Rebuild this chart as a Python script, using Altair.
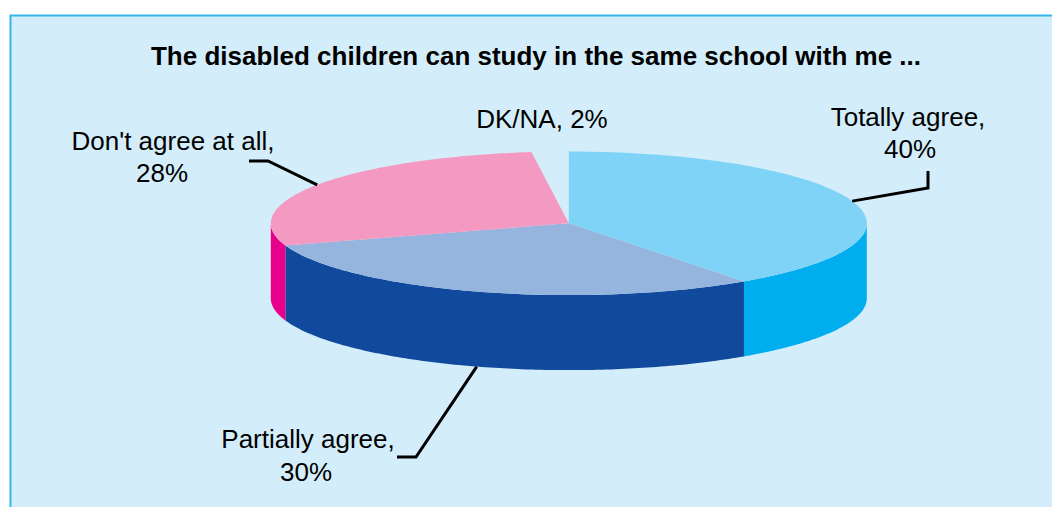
import math
import altair as alt
import pandas as pd

# ---- data ----
categories = ["Totally agree", "Partially agree", "Don't agree at all", "DK/NA"]
values = [40, 30, 28, 2]
top_colors = ["#7fd3f6", "#95b4de", "#f49ac2", "#d3eefa"]
side_colors = ["#00aeef", "#11499d", "#e8008a", "#d3eefa"]
title_text = "The disabled children can study in the same school with me ..."

# ---- layout (pixels) ----
W, H = 1052, 507
CX, CY, RX, RY, DEPTH = 568.8, 223.3, 298.0, 71.8, 75.0
N = 120
FONT = "Liberation Sans"

df = pd.DataFrame({"category": categories, "value": values, "idx": list(range(len(values)))})

xs = alt.Scale(domain=[0, W], range=[0, W], nice=False, zero=False)
ys = alt.Scale(domain=[0, H], range=[0, H], nice=False, zero=False)


def X(f):
    return alt.X(f, type="quantitative", scale=xs, axis=None)


def Y(f):
    return alt.Y(f, type="quantitative", scale=ys, axis=None)


def angles(ch):
    return (
        ch.transform_window(cum="sum(value)", sort=[alt.SortField("idx")], frame=[None, 0])
        .transform_joinaggregate(total="sum(value)")
        .transform_calculate(a0="2*PI*(datum.cum-datum.value)/datum.total")
        .transform_calculate(a1="2*PI*datum.cum/datum.total")
        .transform_filter("datum.category != 'DK/NA'")
    )


panel = alt.Chart(pd.DataFrame({"p": [0]})).mark_rect(
    fill="#d3eefa", stroke="#35b6ea", strokeWidth=2
).encode(x=alt.value(10.5), x2=alt.value(W + 20), y=alt.value(15.5), y2=alt.value(H + 20))

# side walls (front half of the ellipse)
walls = (
    angles(alt.Chart(df))
    .transform_filter("datum.a1 > PI/2 && datum.a0 < 3*PI/2")
    .transform_calculate(w0="max(datum.a0, PI/2)")
    .transform_calculate(w1="min(datum.a1, 3*PI/2)")
    .transform_calculate(steps=f"sequence(0, {N + 1})")
    .transform_flatten(["steps"], as_=["k"])
    .transform_calculate(t=f"datum.w0 + (datum.w1-datum.w0)*datum.k/{N}")
    .transform_calculate(px=f"{CX} + {RX}*sin(datum.t)")
    .transform_calculate(py=f"{CY} - {RY}*cos(datum.t)")
    .transform_calculate(py2=f"datum.py + {DEPTH}")
    .mark_area(orient="vertical")
    .encode(
        x=X("px"), y=Y("py"), y2="py2",
        detail="category:N",
        fill=alt.Fill("category:N", scale=alt.Scale(domain=categories, range=side_colors), legend=None),
    )
)

# top faces
tops = (
    angles(alt.Chart(df))
    .transform_calculate(steps=f"sequence(0, {N + 2})")
    .transform_flatten(["steps"], as_=["k"])
    .transform_calculate(t=f"datum.k == 0 ? 0 : datum.a0 + (datum.a1-datum.a0)*(datum.k-1)/{N}")
    .transform_calculate(px=f"datum.k == 0 ? {CX} : {CX} + {RX}*sin(datum.t)")
    .transform_calculate(py=f"datum.k == 0 ? {CY} : {CY} - {RY}*cos(datum.t)")
    .mark_line(filled=True, strokeWidth=0)
    .encode(
        x=X("px"), y=Y("py"),
        order=alt.Order("k:Q"),
        detail="category:N",
        fill=alt.Fill("category:N", scale=alt.Scale(domain=categories, range=top_colors), legend=None),
    )
)

# leader lines: start at slice mid-angle on the rim, then elbow and end near label
elbows = {
    "Totally agree": [(928, 188), (928, 171)],
    "Partially agree": [(416, 457), (397, 457)],
    "Don't agree at all": [(268, 161), (249, 161)],
}
total = sum(values)
rows = []
cum = 0
for c, v in zip(categories, values):
    mid = 2 * math.pi * (cum + v / 2) / total
    cum += v
    if c not in elbows:
        continue
    ex = CX + RX * math.sin(mid)
    ey = CY - RY * math.cos(mid)
    if -math.cos(mid) > 0:
        ey += DEPTH
    pts = [(ex, ey)] + elbows[c]
    for i, (px, py) in enumerate(pts):
        rows.append({"category": c, "step": i, "px": px, "py": py})
leaders = alt.Chart(pd.DataFrame(rows)).mark_line(color="black", strokeWidth=3).encode(
    x=X("px"), y=Y("py"), order=alt.Order("step:Q"), detail="category:N"
)

# labels
pct = {c: f"{v}%" for c, v in zip(categories, values)}
label_rows = [
    {"text": "Totally agree,", "px": 908, "py": 126},
    {"text": pct["Totally agree"], "px": 910, "py": 158},
    {"text": "Don't agree at all,", "px": 173, "py": 150},
    {"text": pct["Don't agree at all"], "px": 162, "py": 182},
    {"text": "Partially agree,", "px": 308, "py": 448},
    {"text": pct["Partially agree"], "px": 306, "py": 481},
    {"text": "DK/NA, " + pct["DK/NA"], "px": 542, "py": 128},
]
labels = alt.Chart(pd.DataFrame(label_rows)).mark_text(
    font=FONT, fontSize=26, align="center", baseline="alphabetic", color="black"
).encode(x=X("px"), y=Y("py"), text="text:N")

title = alt.Chart(pd.DataFrame({"text": [title_text], "px": [536], "py": [65]})).mark_text(
    font=FONT, fontSize=26, fontWeight="bold", align="center", baseline="alphabetic", color="black"
).encode(x=X("px"), y=Y("py"), text="text:N")

chart = (
    alt.layer(panel, walls, tops, leaders, labels, title)
    .resolve_scale(fill="independent")
    .properties(width=W, height=H, padding=0, autosize=alt.AutoSizeParams(type="none"), background="white")
    .configure_view(stroke=None)
)

chart.save("out.html", embed_options={"renderer": "svg", "actions": False})
